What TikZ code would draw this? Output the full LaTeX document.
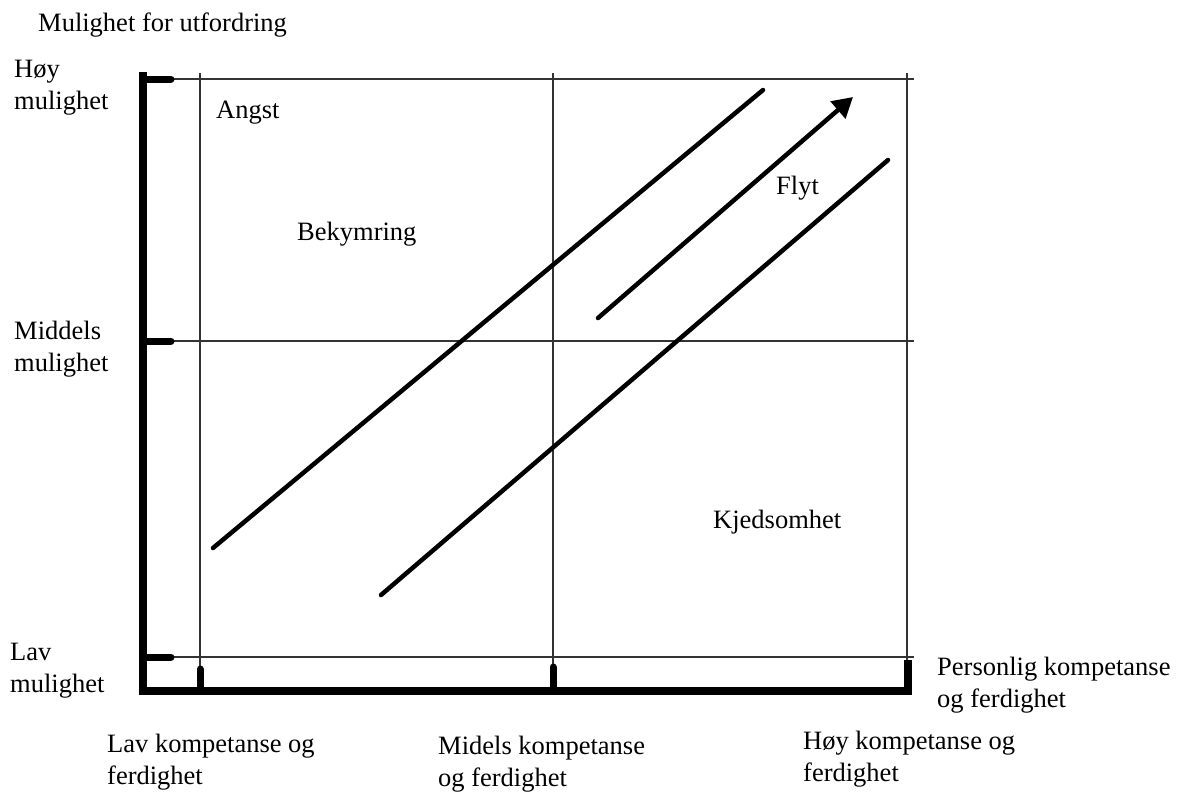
\documentclass[tikz,border=0pt]{standalone}
\usepackage{fontspec}
\setmainfont{Liberation Serif}
\usetikzlibrary{arrows.meta}
\tikzset{
  lbl/.style={anchor=base west, inner sep=0pt, align=left, font=\fontsize{26.5}{32}\selectfont},
  axis/.style={line width=8pt, line join=miter},
  tickmark/.style={line width=7pt, line cap=round},
  grid/.style={line width=1.3pt, black!80},
  diag/.style={line width=4.5pt, line cap=round},
}
\begin{document}
\begin{tikzpicture}[x=1pt,y=-1pt]
\useasboundingbox (0,0) rectangle (1183,796);
% coordinates
\coordinate (yTop) at (143,72);
\coordinate (origin) at (143,691);
\coordinate (xEnd) at (912,691);
% thin grid
\draw[grid] (173,79) -- (914,79);
\draw[grid] (173,341) -- (914,341);
\draw[grid] (173,657) -- (914,657);
\draw[grid] (200,73) -- (200,668);
\draw[grid] (553,73) -- (553,665);
\draw[grid] (907,73) -- (907,660);
% axes
\draw[axis] (yTop) -- (origin) -- (xEnd);
% ticks
\draw[tickmark] (146,79) -- (171,79);
\draw[tickmark] (146,341) -- (171,341);
\draw[tickmark] (146,657) -- (171,657);
\draw[tickmark] (200,688) -- (200,669);
\draw[tickmark] (553,688) -- (553,667);
\draw[line width=8pt] (908,691) -- (908,660);
% diagonal lines
\coordinate (a1) at (213,548);
\coordinate (a2) at (763,90);
\coordinate (b1) at (598,318);
\coordinate (b2) at (853,97);
\coordinate (c1) at (381,595);
\coordinate (c2) at (888,160);
\draw[diag] (a1) -- (a2);
\draw[diag, -{Triangle[length=20pt,width=22pt]}] (b1) -- (b2);
\draw[diag] (c1) -- (c2);
% labels (base = baseline of last line)
\node[lbl] (title) at (38,31) {Mulighet for utfordring};
\node[lbl] (hoy) at (14,109) {Høy\\mulighet};
\node[lbl] (mid) at (14,371) {Middels\\mulighet};
\node[lbl] (lav) at (10,692) {Lav\\mulighet};
\node[lbl] (angst) at (216,118) {Angst};
\node[lbl] (bek) at (297,240) {Bekymring};
\node[lbl] (flyt) at (776,194) {Flyt};
\node[lbl] (kjed) at (713,528) {Kjedsomhet};
\node[lbl] (pers) at (937,707) {Personlig kompetanse\\og ferdighet};
\node[lbl] (lavk) at (107,784) {Lav kompetanse og\\ferdighet};
\node[lbl] (midk) at (438,786) {Midels kompetanse\\og ferdighet};
\node[lbl] (hoyk) at (803,781) {Høy kompetanse og\\ferdighet};
\end{tikzpicture}
\end{document}
